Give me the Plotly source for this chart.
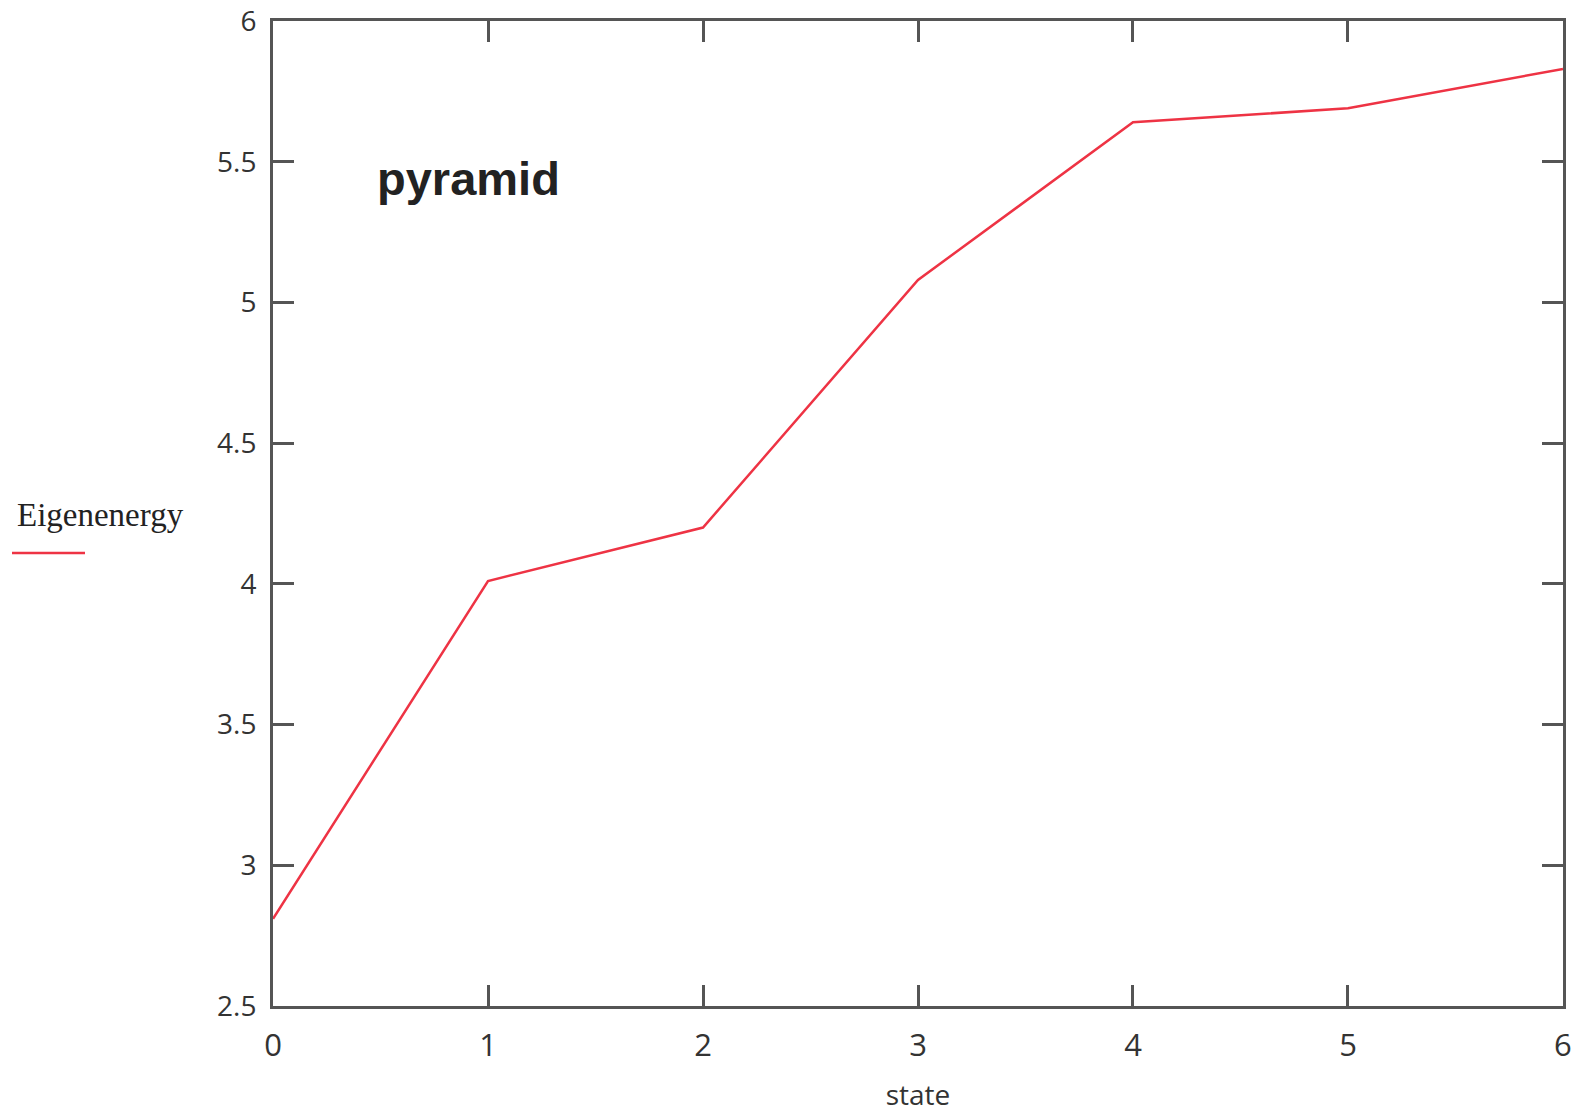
import plotly.graph_objects as go

states = [0, 1, 2, 3, 4, 5, 6]
eigenenergy = [2.81, 4.01, 4.20, 5.08, 5.64, 5.69, 5.83]
x_ticks = [0, 1, 2, 3, 4, 5, 6]
y_ticks = [2.5, 3, 3.5, 4, 4.5, 5, 5.5, 6]
y_tick_labels = ["2.5", "3", "3.5", "4", "4.5", "5", "5.5", "6"]

W, H = 1579, 1113
L, R, T, B = 273, 16, 21, 107

fig = go.Figure()
fig.add_trace(go.Scatter(
    x=states, y=eigenenergy, mode="lines", name="Eigenenergy",
    line=dict(color="#ee3344", width=2.5), showlegend=False,
))

axis_common = dict(
    showgrid=False, zeroline=False, showline=True, linecolor="#555555",
    linewidth=3, mirror="ticks", ticks="inside", ticklen=21, tickwidth=2.5,
    tickcolor="#555555", automargin=False, ticklabeloverflow="allow",
)
tick_font_family = "Open Sans, DejaVu Sans, sans-serif"

fig.update_xaxes(range=[-0.0001, 6.0001], tickvals=x_ticks, ticktext=[str(v) for v in x_ticks],
                 ticklabelstandoff=10,
                 tickfont=dict(family=tick_font_family, size=31, color="#333333"),
                 title=dict(text="state", font=dict(family=tick_font_family, size=28, color="#333333"), standoff=22),
                 **axis_common)
fig.update_yaxes(range=[2.4999, 6.0001], tickvals=y_ticks, ticktext=y_tick_labels,
                 ticklabelstandoff=8,
                 tickfont=dict(family=tick_font_family, size=28, color="#333333"),
                 **axis_common)

# Legend-like label (text above a line sample) at left
fig.add_annotation(xref="paper", yref="paper", x=(15 - L) / (W - L - R), y=1 - (515 - T) / (H - T - B),
                   text="Eigenenergy", showarrow=False, xanchor="left", yanchor="middle",
                   font=dict(family="Liberation Serif, DejaVu Serif, serif", size=33, color="#222222"))
fig.add_shape(type="line", xref="paper", yref="paper",
              x0=(12 - L) / (W - L - R), x1=(85 - L) / (W - L - R),
              y0=1 - (553 - T) / (H - T - B), y1=1 - (553 - T) / (H - T - B),
              line=dict(color="#ee3344", width=2.5))

fig.add_annotation(xref="paper", yref="paper", x=(375 - L) / (W - L - R), y=1 - (178 - T) / (H - T - B),
                   text="<b>pyramid</b>", showarrow=False, xanchor="left", yanchor="middle",
                   font=dict(family="Liberation Sans, Arial, sans-serif", size=47, color="#222222"))

fig.update_layout(
    width=W, height=H, margin=dict(l=L, r=R, t=T, b=B, autoexpand=False),
    paper_bgcolor="white", plot_bgcolor="white",
)

fig.write_html("out.html")
